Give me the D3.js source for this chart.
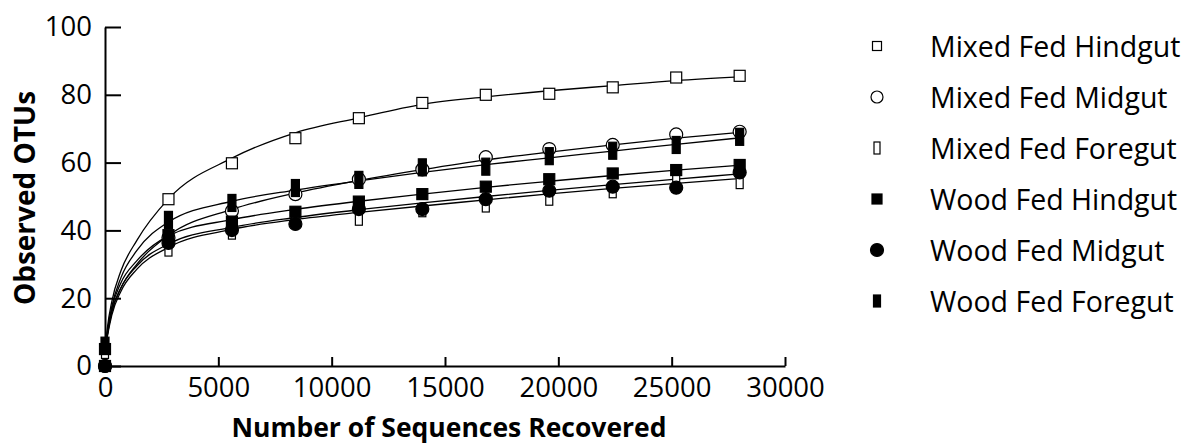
<!DOCTYPE html>
<html>
<head>
<meta charset="utf-8">
<script src="https://cdn.jsdelivr.net/npm/d3@7"></script>
<style>
  body { margin: 0; background: #fff; }
  svg { display: block; font-family: "Open Sans", sans-serif; }
</style>
</head>
<body>
<div id="chart"></div>
<script>
// sequences sampled (x values of the points)
var seqs = [0, 2800, 5600, 8400, 11200, 14000, 16800, 19600, 22400, 25200, 28000];

// observed OTUs
var mixedHindgut = [0, 49.2, 59.8, 67.2, 73.1, 77.6, 80.0, 80.3, 82.2, 85.1, 85.6];
var mixedMidgut  = [0, 37.8, 45.7, 50.7, 55.1, 58.0, 61.6, 64.0, 65.2, 68.3, 69.1];
var mixedForegut = [4, 34.2, 39.2, 42.6, 43.3, 45.8, 47.2, 49.2, 51.4, 55.1, 54.1];
var woodHindgut  = [5, 38.6, 42.6, 45.5, 48.5, 50.7, 52.9, 55.1, 56.8, 57.8, 59.3];
var woodMidgut   = [0, 36.3, 40.1, 41.9, 46.3, 46.3, 49.2, 51.7, 52.9, 52.6, 57.1];
var woodForegut  = [6, 43.1, 48.1, 52.5, 54.9, 58.6, 58.8, 61.9, 63.5, 65.2, 67.6];

// fitted curves at these x values
var fitX = [0, 100, 300, 700, 1400, 2800, 5600, 8400, 11200, 14000, 16800, 19600, 22400, 25200, 28000];
var fitMixedHindgut = [4, 11, 19, 28, 37, 49.3, 61.3, 68.8, 73.2, 77.2, 79.4, 81.2, 82.7, 84.2, 85.3];
var fitMixedMidgut  = [4, 9, 16, 23, 30, 38.5, 46.2, 51.0, 54.7, 57.9, 60.8, 63.1, 65.2, 67.2, 68.9];
var fitMixedForegut = [4, 8.5, 15, 22, 28.5, 35.0, 40.3, 43.2, 45.3, 47.2, 49.0, 50.8, 52.4, 53.9, 55.3];
var fitWoodHindgut  = [4, 9.5, 17, 24.5, 31, 38.4, 43.2, 46.2, 48.6, 50.7, 52.7, 54.5, 56.2, 57.8, 59.2];
var fitWoodMidgut   = [4, 9, 16, 23, 29.5, 36.0, 40.9, 43.8, 46.1, 48.1, 50.0, 51.8, 53.5, 55.1, 56.7];
var fitWoodForegut  = [4, 10, 17.5, 26, 34, 42.5, 48.6, 51.9, 54.6, 57.1, 59.4, 61.4, 63.4, 65.4, 67.3];

var names = ["Mixed Fed Hindgut", "Mixed Fed Midgut", "Mixed Fed Foregut",
             "Wood Fed Hindgut", "Wood Fed Midgut", "Wood Fed Foregut"];
var values = [mixedHindgut, mixedMidgut, mixedForegut, woodHindgut, woodMidgut, woodForegut];
var fits = [fitMixedHindgut, fitMixedMidgut, fitMixedForegut, fitWoodHindgut, fitWoodMidgut, fitWoodForegut];

var xTicks = [0, 5000, 10000, 15000, 20000, 25000, 30000];
var yTicks = [0, 20, 40, 60, 80, 100];

// marker look for each series (plot size, legend size)
var markers = [
  {shape: "rect",   w: 11, h: 11, lw: 9,  lh: 9,  fill: "#fff"},
  {shape: "circle", r: 6.5, lr: 6,               fill: "#fff"},
  {shape: "rect",   w: 7,  h: 12, lw: 6,  lh: 12, fill: "#fff"},
  {shape: "rect",   w: 11, h: 11, lw: 10, lh: 10, fill: "#000"},
  {shape: "circle", r: 6.5, lr: 6.5,             fill: "#000"},
  {shape: "rect",   w: 8,  h: 17, lw: 7,  lh: 12, fill: "#000"}
];

var W = 1184, H = 445;
var svg = d3.select("#chart").append("svg")
  .attr("width", W).attr("height", H);

var x = d3.scaleLinear().domain([0, 30000]).range([105, 785]);
var y = d3.scaleLinear().domain([0, 100]).range([366, 27]);

// axes
var xAxis = svg.append("g")
  .attr("transform", "translate(0," + y(0) + ")")
  .call(d3.axisBottom(x).tickValues(xTicks).tickFormat(d3.format("d"))
    .tickSizeInner(-9).tickSizeOuter(0).tickPadding(11));
var yAxis = svg.append("g")
  .attr("transform", "translate(" + x(0) + ",0)")
  .call(d3.axisLeft(y).tickValues(yTicks)
    .tickSizeInner(-16).tickSizeOuter(0).tickPadding(13));

[xAxis, yAxis].forEach(function(a) {
  a.select(".domain").attr("stroke", "#000").attr("stroke-width", 2);
  a.selectAll(".tick line").attr("stroke", "#000").attr("stroke-width", 2);
  a.selectAll(".tick text").attr("fill", "#000")
    .style("font-size", "27.5px").style("font-family", "'Open Sans', sans-serif");
});

// axis titles
svg.append("text")
  .attr("x", 449).attr("y", 437)
  .attr("text-anchor", "middle")
  .style("font-size", "26.5px").style("font-weight", "bold")
  .text("Number of Sequences Recovered");
svg.append("text")
  .attr("transform", "translate(35,198) rotate(-90)")
  .attr("text-anchor", "middle")
  .style("font-size", "28px").style("font-weight", "bold")
  .text("Observed OTUs");

// fitted curves
var line = d3.line()
  .x(function(d) { return x(d[0]); })
  .y(function(d) { return y(d[1]); })
  .curve(d3.curveMonotoneX);

svg.selectAll(".fit")
  .data(fits)
  .enter()
  .append("path")
    .attr("class", "fit")
    .attr("d", function(f) { return line(fitX.map(function(v, i) { return [v, f[i]]; })); })
    .attr("fill", "none")
    .attr("stroke", "#000")
    .attr("stroke-width", 1.3);

// draw a marker into a selection
function drawMarker(g, m, cx, cy, legend) {
  if (m.shape === "circle") {
    g.append("circle")
      .attr("cx", cx).attr("cy", cy)
      .attr("r", legend ? m.lr : m.r)
      .attr("fill", m.fill).attr("stroke", "#000").attr("stroke-width", 1.2);
  } else {
    var w = legend ? m.lw : m.w, h = legend ? m.lh : m.h;
    g.append("rect")
      .attr("x", cx - w / 2).attr("y", cy - h / 2)
      .attr("width", w).attr("height", h)
      .attr("fill", m.fill).attr("stroke", "#000").attr("stroke-width", 1.2);
  }
}

// points
values.forEach(function(vals, s) {
  var g = svg.append("g").attr("class", "pts");
  vals.forEach(function(v, i) {
    drawMarker(g, markers[s], x(seqs[i]), y(v), false);
  });
});

// legend
var legend = svg.append("g");
names.forEach(function(n, i) {
  var cy = 46 + i * 51;
  drawMarker(legend, markers[i], 877, cy, true);
  legend.append("text")
    .attr("x", 930).attr("y", cy + 11)
    .style("font-size", "28.5px")
    .text(n);
});
</script>
</body>
</html>
